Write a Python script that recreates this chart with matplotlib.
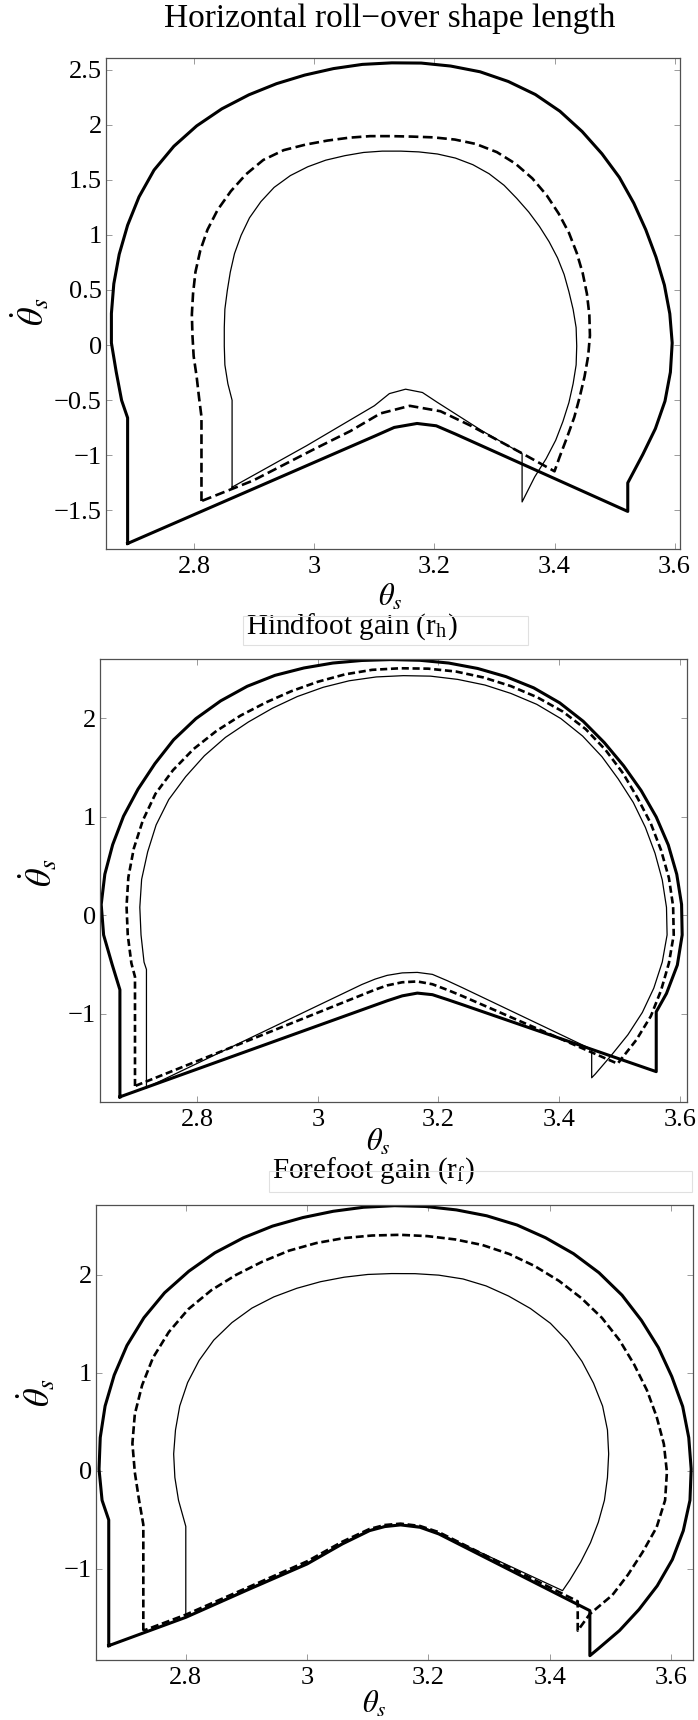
import matplotlib
matplotlib.use('Agg')
import matplotlib.pyplot as plt
from matplotlib.patches import Rectangle

plt.rcParams['font.family'] = ['Liberation Serif', 'DejaVu Serif']
plt.rcParams['mathtext.fontset'] = 'stix'

# ==================== Horizontal roll-over shape length ====================
roll_1_x = [2.689, 2.689, 2.679, 2.670, 2.662, 2.662, 2.666, 2.675, 2.689, 2.708,
            2.733, 2.766, 2.804, 2.846, 2.891, 2.937, 2.984, 3.032, 3.080, 3.129,
            3.178, 3.227, 3.276, 3.323, 3.368, 3.409, 3.446, 3.479, 3.508, 3.532,
            3.552, 3.569, 3.583, 3.592, 3.596, 3.593, 3.584, 3.568, 3.547, 3.522,
            3.522, 3.235, 3.203, 3.171, 3.133, 3.102, 2.689]
roll_1_y = [-1.800, -0.660, -0.501, -0.243, 0.020, 0.287, 0.556, 0.824, 1.088, 1.345,
            1.588, 1.804, 1.989, 2.144, 2.271, 2.372, 2.450, 2.509, 2.547, 2.561,
            2.559, 2.532, 2.480, 2.392, 2.274, 2.122, 1.938, 1.736, 1.522, 1.288,
            1.047, 0.799, 0.545, 0.285, 0.020, -0.246, -0.508, -0.758, -0.993, -1.250,
            -1.509, -0.807, -0.732, -0.711, -0.747, -0.822, -1.800]

roll_2_x = [2.812, 2.812, 2.808, 2.804, 2.799, 2.797, 2.796, 2.798, 2.802, 2.810,
            2.822, 2.839, 2.861, 2.886, 2.915, 2.949, 2.986, 3.022, 3.058, 3.093,
            3.128, 3.162, 3.198, 3.234, 3.269, 3.304, 3.335, 3.363, 3.387, 3.407,
            3.424, 3.437, 3.447, 3.454, 3.458, 3.459, 3.456, 3.450, 3.442, 3.433,
            3.421, 3.408, 3.400, 3.343, 3.260, 3.210, 3.159, 3.110, 3.060, 3.000,
            2.898, 2.812]
roll_2_y = [-1.415, -0.650, -0.478, -0.288, -0.101, 0.087, 0.277, 0.469, 0.664, 0.858,
            1.047, 1.228, 1.397, 1.549, 1.680, 1.769, 1.820, 1.856, 1.882, 1.896,
            1.896, 1.892, 1.885, 1.865, 1.825, 1.751, 1.646, 1.513, 1.359, 1.193,
            1.019, 0.837, 0.652, 0.465, 0.276, 0.087, -0.101, -0.286, -0.470, -0.653,
            -0.835, -1.022, -1.145, -0.973, -0.730, -0.600, -0.551, -0.620, -0.780, -0.943,
            -1.229, -1.415]

roll_3_x = [2.863, 2.863, 2.856, 2.851, 2.850, 2.850, 2.851, 2.855, 2.860, 2.867,
            2.878, 2.892, 2.911, 2.933, 2.960, 2.989, 3.019, 3.051, 3.082, 3.113,
            3.144, 3.174, 3.205, 3.235, 3.264, 3.291, 3.316, 3.337, 3.357, 3.375,
            3.391, 3.405, 3.416, 3.424, 3.431, 3.436, 3.437, 3.436, 3.431, 3.424,
            3.414, 3.402, 3.386, 3.367, 3.346, 3.346, 3.280, 3.205, 3.180, 3.152,
            3.125, 3.100, 2.987, 2.863]
roll_3_y = [-1.289, -0.500, -0.351, -0.180, -0.009, 0.159, 0.326, 0.494, 0.662, 0.830,
            0.996, 1.155, 1.302, 1.431, 1.538, 1.618, 1.678, 1.719, 1.748, 1.760,
            1.760, 1.753, 1.734, 1.697, 1.637, 1.555, 1.450, 1.332, 1.208, 1.076,
            0.938, 0.792, 0.641, 0.484, 0.324, 0.159, -0.009, -0.180, -0.350, -0.521,
            -0.693, -0.863, -1.031, -1.196, -1.423, -0.985, -0.780, -0.520, -0.430, -0.400,
            -0.440, -0.550, -0.913, -1.289]

# ==================== Hindfoot gain (r_h) ====================
hind_1_x = [2.672, 2.672, 2.659, 2.645, 2.641, 2.647, 2.660, 2.678, 2.702, 2.730,
            2.761, 2.798, 2.839, 2.883, 2.929, 2.977, 3.025, 3.073, 3.121, 3.169,
            3.217, 3.265, 3.312, 3.358, 3.401, 3.440, 3.475, 3.507, 3.536, 3.561,
            3.581, 3.595, 3.603, 3.604, 3.596, 3.578, 3.561, 3.561, 3.240, 3.215,
            3.190, 3.165, 3.140, 3.115, 3.095, 2.672]
hind_1_y = [-1.843, -0.756, -0.497, -0.200, 0.109, 0.416, 0.716, 1.005, 1.279, 1.538,
            1.780, 1.995, 2.175, 2.323, 2.434, 2.509, 2.559, 2.585, 2.594, 2.587,
            2.559, 2.504, 2.421, 2.307, 2.155, 1.968, 1.751, 1.516, 1.265, 0.997,
            0.713, 0.416, 0.110, -0.200, -0.505, -0.794, -0.980, -1.587, -0.908, -0.856,
            -0.806, -0.790, -0.818, -0.868, -0.912, -1.843]

hind_2_x = [2.697, 2.697, 2.691, 2.685, 2.683, 2.686, 2.695, 2.710, 2.731, 2.760,
            2.794, 2.832, 2.872, 2.914, 2.956, 3.000, 3.045, 3.090, 3.137, 3.183,
            3.229, 3.275, 3.320, 3.364, 3.406, 3.444, 3.477, 3.506, 3.530, 3.552,
            3.569, 3.582, 3.589, 3.590, 3.582, 3.569, 3.552, 3.528, 3.497, 3.240,
            3.215, 3.190, 3.165, 3.140, 3.115, 3.095, 2.697]
hind_2_y = [-1.733, -0.625, -0.486, -0.200, 0.091, 0.385, 0.677, 0.962, 1.233, 1.472,
            1.686, 1.870, 2.026, 2.159, 2.273, 2.369, 2.444, 2.490, 2.506, 2.502,
            2.473, 2.412, 2.325, 2.211, 2.067, 1.889, 1.677, 1.440, 1.190, 0.931,
            0.660, 0.379, 0.091, -0.200, -0.486, -0.762, -1.025, -1.265, -1.506, -0.821,
            -0.758, -0.700, -0.672, -0.680, -0.712, -0.755, -1.733]

hind_3_x = [2.716, 2.716, 2.712, 2.707, 2.705, 2.708, 2.718, 2.732, 2.753, 2.781,
            2.812, 2.847, 2.885, 2.925, 2.966, 3.009, 3.052, 3.097, 3.142, 3.187,
            3.232, 3.277, 3.320, 3.363, 3.403, 3.439, 3.471, 3.498, 3.523, 3.543,
            3.559, 3.571, 3.578, 3.579, 3.571, 3.557, 3.538, 3.514, 3.487, 3.460,
            3.454, 3.454, 3.240, 3.215, 3.190, 3.165, 3.140, 3.115, 3.095, 3.073,
            2.716]
hind_3_y = [-1.750, -0.550, -0.476, -0.200, 0.081, 0.364, 0.643, 0.916, 1.174, 1.406,
            1.618, 1.805, 1.961, 2.101, 2.219, 2.313, 2.379, 2.418, 2.431, 2.426,
            2.393, 2.336, 2.251, 2.140, 1.995, 1.818, 1.609, 1.383, 1.144, 0.892,
            0.629, 0.358, 0.080, -0.200, -0.475, -0.739, -0.986, -1.213, -1.418, -1.611,
            -1.649, -1.361, -0.736, -0.665, -0.600, -0.580, -0.585, -0.610, -0.648, -0.703,
            -1.750]

# ==================== Forefoot gain (r_f) ====================
fore_1_x = [2.673, 2.673, 2.662, 2.657, 2.659, 2.667, 2.682, 2.703, 2.731, 2.765,
            2.805, 2.848, 2.895, 2.943, 2.993, 3.043, 3.093, 3.144, 3.195, 3.246,
            3.296, 3.346, 3.393, 3.439, 3.481, 3.519, 3.551, 3.579, 3.601, 3.619,
            3.629, 3.633, 3.631, 3.620, 3.602, 3.577, 3.547, 3.515, 3.480, 3.466,
            3.466, 3.217, 3.186, 3.154, 3.128, 3.103, 3.058, 3.000, 2.899, 2.800,
            2.673]
fore_1_y = [-1.782, -0.500, -0.300, 0.017, 0.340, 0.661, 0.976, 1.278, 1.561, 1.815,
            2.035, 2.223, 2.376, 2.495, 2.582, 2.646, 2.687, 2.703, 2.695, 2.660,
            2.600, 2.506, 2.376, 2.214, 2.020, 1.791, 1.534, 1.256, 0.962, 0.656,
            0.339, 0.018, -0.300, -0.610, -0.904, -1.172, -1.413, -1.627, -1.812, -1.884,
            -1.425, -0.643, -0.575, -0.551, -0.568, -0.609, -0.745, -0.949, -1.221, -1.493,
            -1.782]

fore_2_x = [2.730, 2.730, 2.723, 2.716, 2.712, 2.716, 2.728, 2.746, 2.772, 2.804,
            2.842, 2.883, 2.926, 2.970, 3.015, 3.061, 3.107, 3.153, 3.198, 3.244,
            3.289, 3.333, 3.375, 3.415, 3.452, 3.486, 3.515, 3.539, 3.560, 3.576,
            3.588, 3.593, 3.590, 3.576, 3.553, 3.529, 3.503, 3.466, 3.446, 3.446,
            3.217, 3.186, 3.154, 3.128, 3.103, 3.058, 3.000, 2.899, 2.800, 2.730]
fore_2_y = [-1.629, -0.547, -0.300, -0.016, 0.280, 0.579, 0.873, 1.154, 1.415, 1.647,
            1.841, 1.998, 2.132, 2.244, 2.322, 2.373, 2.399, 2.406, 2.393, 2.359,
            2.302, 2.211, 2.088, 1.937, 1.761, 1.559, 1.331, 1.084, 0.823, 0.553,
            0.273, -0.013, -0.300, -0.576, -0.828, -1.057, -1.267, -1.459, -1.629, -1.330,
            -0.625, -0.562, -0.538, -0.552, -0.592, -0.722, -0.922, -1.197, -1.466, -1.629]

fore_3_x = [2.800, 2.800, 2.788, 2.782, 2.780, 2.783, 2.790, 2.803, 2.822, 2.846,
            2.876, 2.909, 2.945, 2.983, 3.022, 3.061, 3.100, 3.139, 3.178, 3.217,
            3.257, 3.295, 3.332, 3.368, 3.401, 3.429, 3.453, 3.472, 3.487, 3.495,
            3.497, 3.495, 3.490, 3.480, 3.467, 3.451, 3.433, 3.421, 3.217, 3.186,
            3.154, 3.128, 3.103, 3.058, 3.000, 2.899, 2.800]
fore_3_y = [-1.493, -0.566, -0.300, -0.068, 0.172, 0.416, 0.661, 0.900, 1.126, 1.332,
            1.511, 1.659, 1.773, 1.861, 1.928, 1.974, 2.002, 2.011, 2.010, 1.995,
            1.956, 1.885, 1.782, 1.655, 1.504, 1.324, 1.116, 0.894, 0.660, 0.417,
            0.173, -0.068, -0.300, -0.523, -0.733, -0.929, -1.113, -1.221, -0.635, -0.567,
            -0.546, -0.562, -0.603, -0.737, -0.942, -1.211, -1.493]

# ==================== Axis ticks ====================
theta_ticks = [2.8, 3.0, 3.2, 3.4, 3.6]
theta_labels = ['2.8', '3', '3.2', '3.4', '3.6']
rate_ticks_fine = [-1.5, -1.0, -0.5, 0.0, 0.5, 1.0, 1.5, 2.0, 2.5]
rate_labels_fine = ['\u22121.5', '\u22121', '\u22120.5', '0', '0.5', '1', '1.5', '2', '2.5']
rate_ticks = [-1, 0, 1, 2]
rate_labels = ['\u22121', '0', '1', '2']

W, H = 698, 1720
fig = plt.figure(figsize=(W / 100, H / 100), dpi=100)


def px_axes(left, top, right, bottom):
    return fig.add_axes([left / W, 1 - bottom / H, (right - left) / W, (bottom - top) / H])


def draw_panel(ax, curves, dash, xlim, ylim, yticks, ylabels):
    (x1, y1), (x2, y2), (x3, y3) = curves
    ax.plot(x1, y1, color='k', lw=2.2)
    ax.plot(x2, y2, color='k', lw=1.9, dashes=dash)
    ax.plot(x3, y3, color='k', lw=0.9)
    ax.set_xlim(*xlim)
    ax.set_ylim(*ylim)
    ax.set_xticks(theta_ticks, theta_labels)
    ax.set_yticks(yticks, ylabels)
    ax.tick_params(direction='in', length=4.5, width=0.6, color='#8a8a8a',
                   top=True, right=True, labelsize=19)
    ax.tick_params(axis='x', pad=5)
    ax.tick_params(axis='y', pad=3)
    for sp in ax.spines.values():
        sp.set_color('#505050')
        sp.set_linewidth(0.9)


# ==================== Panel 1 ====================
ax1 = px_axes(106, 58, 680, 549)
draw_panel(ax1, [(roll_1_x, roll_1_y), (roll_2_x, roll_2_y), (roll_3_x, roll_3_y)],
           (3.7, 1.7), (2.653, 3.609), (-1.85, 2.605), rate_ticks_fine, rate_labels_fine)
ax1.set_title('Horizontal roll\u2212over shape length', fontsize=24, x=0.495, y=1.046,
              va='baseline')
ax1.set_xlabel(r'$\theta_s$', fontsize=22, va='center')
ax1.xaxis.set_label_coords(0.495, -0.100)
ax1.set_ylabel(r'$\dot{\theta}_s$', fontsize=26, va='center')
ax1.yaxis.set_label_coords(-0.131, 0.483)

# ==================== Panel 2 ====================
ax2 = px_axes(100, 659, 687, 1102)
draw_panel(ax2, [(hind_1_x, hind_1_y), (hind_2_x, hind_2_y), (hind_3_x, hind_3_y)],
           (2.7, 1.4), (2.639, 3.612), (-1.895, 2.60), rate_ticks, rate_labels)
ax2.set_title(r'Hindfoot gain (r$_{\mathregular{h}}$)', fontsize=21, x=0.249, y=1.038,
              ha='left', va='baseline')
ax2.set_xlabel(r'$\theta_s$', fontsize=22, va='center')
ax2.xaxis.set_label_coords(0.474, -0.093)
ax2.set_ylabel(r'$\dot{\theta}_s$', fontsize=26, va='center')
ax2.yaxis.set_label_coords(-0.104, 0.519)
fig.add_artist(Rectangle((243 / W, 1 - 645 / H), 285 / W, 29 / H, transform=fig.transFigure,
                         fill=False, ec='#e0e0e0', lw=0.8))

# ==================== Panel 3 ====================
ax3 = px_axes(96, 1205, 693, 1660)
draw_panel(ax3, [(fore_1_x, fore_1_y), (fore_2_x, fore_2_y), (fore_3_x, fore_3_y)],
           (3.0, 1.4), (2.652, 3.636), (-1.928, 2.71), rate_ticks, rate_labels)
ax3.set_title(r'Forefoot gain (r$_{\mathregular{f}}$)', fontsize=21, x=0.295, y=1.042,
              ha='left', va='baseline')
ax3.set_xlabel(r'$\theta_s$', fontsize=22, va='center')
ax3.xaxis.set_label_coords(0.466, -0.099)
ax3.set_ylabel(r'$\dot{\theta}_s$', fontsize=26, va='center')
ax3.yaxis.set_label_coords(-0.099, 0.587)
fig.add_artist(Rectangle((269 / W, 1 - 1192 / H), 423 / W, 21 / H, transform=fig.transFigure,
                         fill=False, ec='#e0e0e0', lw=0.8))

fig.savefig('out.png', dpi=100)
